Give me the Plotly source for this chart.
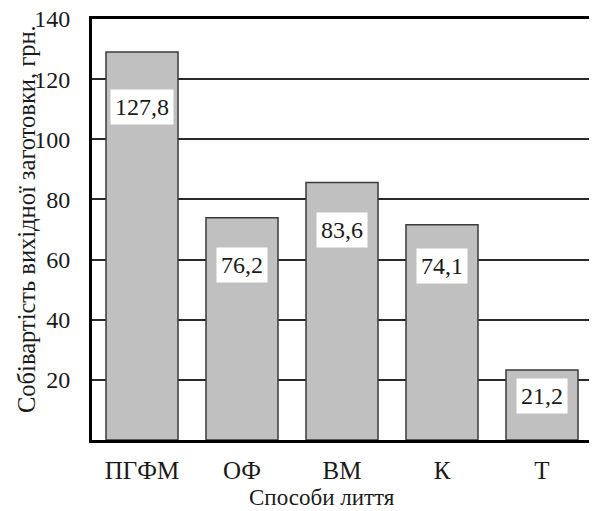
import plotly.graph_objects as go

categories = ["ПГФМ", "ОФ", "ВМ", "К", "Т"]
bar_heights = [129.0, 73.9, 85.6, 71.6, 23.3]
bar_labels = ["127,8", "76,2", "83,6", "74,1", "21,2"]
y_ticks = [20, 40, 60, 80, 100, 120, 140]

FONT = "Liberation Serif"
TXT = "#1a1a1a"
GRID = "#2a2a2a"

fig = go.Figure()
fig.add_trace(go.Bar(
    x=categories, y=bar_heights,
    marker=dict(color="#c0c0c0", line=dict(color="#3a3a3a", width=1.5)),
    hoverinfo="skip",
))

# label drop (px) below each bar top - styling
drops = [55, 47, 47, 41, 26]
for c, h, t, d in zip(categories, bar_heights, bar_labels, drops):
    fig.add_annotation(x=c, y=h, text=t, showarrow=False, yanchor="middle",
                       xanchor="center", yshift=-d, bgcolor="white", borderpad=4,
                       font=dict(family=FONT, size=24, color=TXT))

fig.add_annotation(xref="paper", yref="paper", x=0.46, y=0, yshift=-57,
                   xanchor="center", yanchor="middle",
                   text="Способи лиття", showarrow=False,
                   font=dict(family=FONT, size=23, color=TXT))
fig.add_annotation(xref="paper", yref="paper", x=0, xshift=-65, y=0.525,
                   xanchor="center", yanchor="middle",
                   text="Собівартість вихідної заготовки, грн.", showarrow=False,
                   textangle=-90, font=dict(family=FONT, size=24.5, color=TXT))

fig.update_layout(
    width=589, height=503,
    margin=dict(l=84, r=5, t=11, b=71),
    paper_bgcolor="white", plot_bgcolor="white",
    showlegend=False, bargap=0.28,
    font=dict(family=FONT, color=TXT),
)
# mirror=True draws the line at the top edge (= top tick, 140)
fig.update_xaxes(
    showline=True, mirror=True, linecolor="black", linewidth=3, automargin=False,
    tickfont=dict(family=FONT, size=25, color=TXT),
    ticks="", ticklabelstandoff=6, showgrid=False,
)
fig.update_yaxes(
    range=[0, max(y_ticks)], tickvals=y_ticks, automargin=False,
    showline=True, linecolor="black", linewidth=3,
    showgrid=True, gridcolor=GRID, gridwidth=1.5,
    tickfont=dict(family=FONT, size=24, color=TXT),
    ticks="", ticklabelstandoff=14, zeroline=False,
    ticklabeloverflow="allow",
)

fig.write_html("out.html")
